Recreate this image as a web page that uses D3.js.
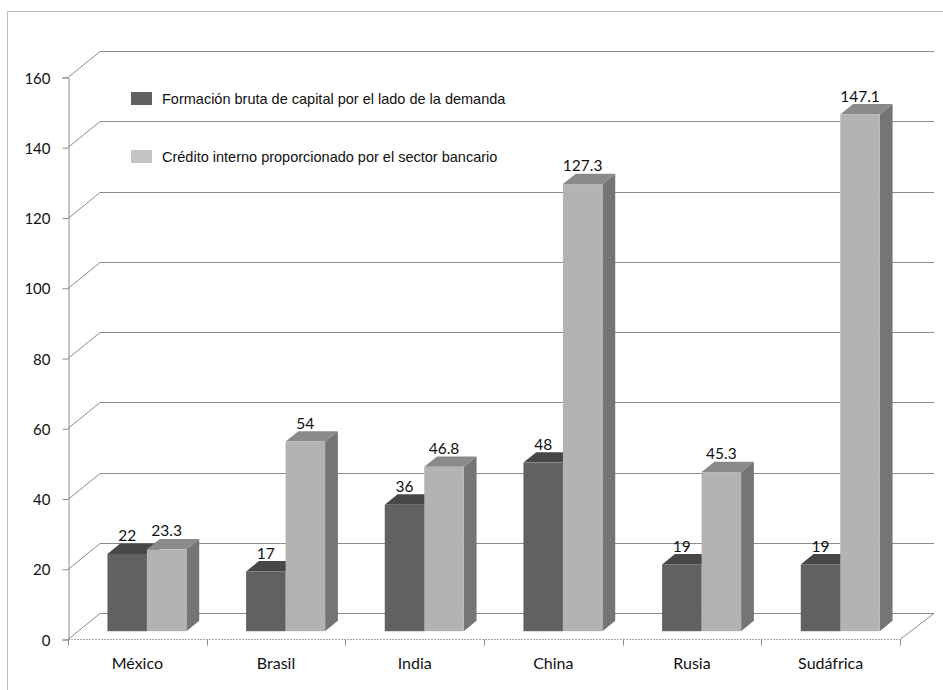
<!DOCTYPE html>
<html>
<head>
<meta charset="utf-8">
<script src="https://cdn.jsdelivr.net/npm/d3@7"></script>
<style>
  html, body { margin: 0; padding: 0; background: #fff; }
  svg { display: block; }
</style>
</head>
<body>
<svg id="chart" width="943" height="690"></svg>
<script>
// Chart data
const categories = ["México", "Brasil", "India", "China", "Rusia", "Sudáfrica"];
const seriesNames = [
  "Formación bruta de capital por el lado de la demanda",
  "Crédito interno proporcionado por el sector bancario"
];
const formacion = [22, 17, 36, 48, 19, 19];
const credito = [23.3, 54, 46.8, 127.3, 45.3, 147.1];
const yTicks = [0, 20, 40, 60, 80, 100, 120, 140, 160];

const series = [formacion, credito];

// Styling
const faces = [
  { front: "#616161", top: "#474747", side: "#3f3f3f", legend: "#606060" },
  { front: "#b3b3b3", top: "#8a8a8a", side: "#757575", legend: "#c4c4c4" }
];
const gridColor = "#8c8c8c";
const numFont = "Lato, 'Open Sans', sans-serif";

const svg = d3.select("#chart");

// Outer frame
svg.append("rect")
  .attr("x", 7.5).attr("y", 11.5)
  .attr("width", 980).attr("height", 720)
  .attr("fill", "none").attr("stroke", "#bdbdbd").attr("stroke-width", 1);

// Scales: front plane of the 3D box
const x0 = d3.scaleBand().domain(categories).range([68, 900]).padding(0);
const y = d3.scaleLinear().domain([0, 160]).range([639, 77]);
const barW = 39.5;
const x1 = d3.scaleBand().domain(d3.range(series.length)).range([-barW, barW]).padding(0);

// Depth vector of the box (front to back wall)
const DX = 32, DY = -26;
const frontDepth = 0.3, backDepth = 0.7;
const bdx = (backDepth - frontDepth) * DX, bdy = (backDepth - frontDepth) * DY;

const g = svg.append("g");

// Back wall gridlines and left wall diagonals
const grid = g.append("g").attr("stroke", gridColor).attr("stroke-width", 1).attr("fill", "none");
yTicks.forEach(t => {
  const yy = Math.round(y(t)) + 0.5;
  grid.append("line")
    .attr("x1", x0.range()[0] + DX).attr("x2", x0.range()[1] + DX + 2)
    .attr("y1", yy + DY).attr("y2", yy + DY);
  grid.append("line")
    .attr("x1", x0.range()[0]).attr("y1", yy)
    .attr("x2", x0.range()[0] + DX).attr("y2", yy + DY);
});
// Floor: right edge and front edge
grid.append("line")
  .attr("x1", x0.range()[1]).attr("y1", Math.round(y(0)) + 0.5)
  .attr("x2", x0.range()[1] + DX + 2).attr("y2", Math.round(y(0)) + 0.5 + DY);
grid.append("line")
  .attr("x1", x0.range()[0]).attr("x2", x0.range()[1])
  .attr("y1", Math.round(y(0)) + 0.5).attr("y2", Math.round(y(0)) + 0.5)
  .attr("stroke", "#a8a8a8").attr("stroke-dasharray", "2,1");

// Y axis
const yAxis = d3.axisLeft(y).tickValues(yTicks).tickSize(6).tickPadding(8).tickFormat(d3.format("d"));
const yAxisG = g.append("g")
  .attr("transform", `translate(${x0.range()[0] + 0.5},0.5)`)
  .call(yAxis);
yAxisG.select(".domain").attr("stroke", gridColor);
yAxisG.selectAll(".tick line").attr("stroke", gridColor);
yAxisG.selectAll(".tick text")
  .attr("font-family", numFont).attr("font-size", 15).attr("fill", "#111")
  .attr("x", -18).attr("dy", "0.38em");

// X axis: labels at band centres, ticks at band boundaries
const xAxis = d3.axisBottom(x0).tickSize(0).tickPadding(18);
const xAxisG = g.append("g")
  .attr("transform", `translate(0,${Math.round(y(0)) + 0.5})`)
  .call(xAxis);
xAxisG.select(".domain").remove();
xAxisG.selectAll(".tick text")
  .attr("font-family", numFont).attr("font-size", 16).attr("fill", "#111");
const bounds = categories.map(c => x0(c)).concat([x0.range()[1]]);
xAxisG.selectAll(".bound").data(bounds).join("line")
  .attr("class", "bound")
  .attr("x1", d => Math.round(d) + 0.5).attr("x2", d => Math.round(d) + 0.5)
  .attr("y1", 0).attr("y2", 6)
  .attr("stroke", gridColor);

// Bars (3D prisms)
const bars = g.append("g");
categories.forEach((c, ci) => {
  const cx = x0(c) + x0.bandwidth() / 2 + frontDepth * DX;
  series.forEach((vals, si) => {
    const v = vals[ci];
    const xl = cx + x1(si);
    const w = x1.bandwidth();
    const yt = y(v) + frontDepth * DY;
    const yb = y(0) + frontDepth * DY;
    const f = faces[si];
    const bg = bars.append("g");
    // side face
    bg.append("path")
      .attr("d", `M${xl + w},${yt}L${xl + w + bdx},${yt + bdy}L${xl + w + bdx},${yb + bdy}L${xl + w},${yb}Z`)
      .attr("fill", f.side);
    // top face
    bg.append("path")
      .attr("d", `M${xl},${yt}L${xl + w},${yt}L${xl + w + bdx},${yt + bdy}L${xl + bdx},${yt + bdy}Z`)
      .attr("fill", f.top);
    // front face
    bg.append("rect")
      .attr("x", xl).attr("y", yt)
      .attr("width", w).attr("height", yb - yt)
      .attr("fill", f.front);
  });
});

// Value labels
const labels = g.append("g")
  .attr("font-family", numFont).attr("font-size", 15.5).attr("fill", "#111")
  .attr("text-anchor", "middle");
categories.forEach((c, ci) => {
  const cx = x0(c) + x0.bandwidth() / 2 + frontDepth * DX;
  series.forEach((vals, si) => {
    const v = vals[ci];
    labels.append("text")
      .attr("x", cx + x1(si) + x1.bandwidth() / 2)
      .attr("y", y(v) + frontDepth * DY + bdy - 2.5)
      .text(v);
  });
});

// Legend
const legend = g.append("g")
  .attr("font-family", "'Liberation Sans', Arial, sans-serif")
  .attr("font-size", 14.5).attr("fill", "#111");
const legendRows = [104, 162];
seriesNames.forEach((name, i) => {
  legend.append("rect")
    .attr("x", 131).attr("y", legendRows[i] - 12)
    .attr("width", 21).attr("height", 13)
    .attr("fill", faces[i].legend);
  legend.append("text")
    .attr("x", 162).attr("y", legendRows[i])
    .text(name);
});
</script>
</body>
</html>
